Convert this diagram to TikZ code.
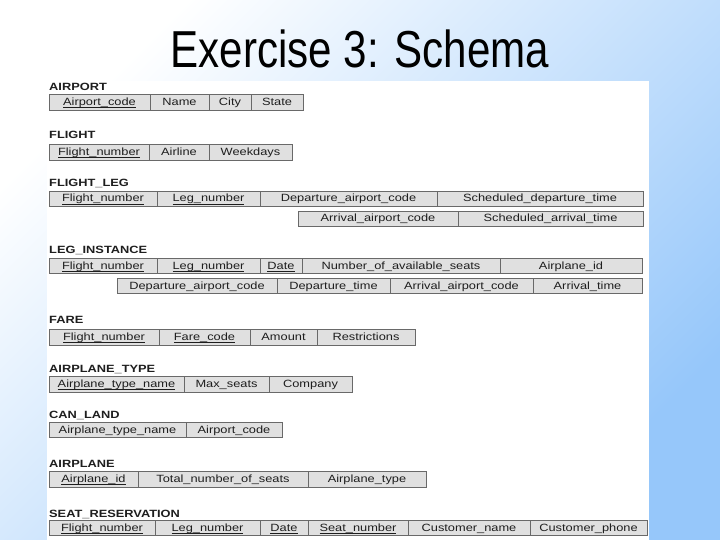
\documentclass[tikz,border=0pt]{standalone}
\usepackage{fontspec}
\setmainfont{Liberation Sans}
\usepackage{graphicx}
\definecolor{bgblue}{RGB}{150,199,250}
\definecolor{cellfill}{RGB}{224,224,224}
\definecolor{cellline}{RGB}{105,105,105}
\definecolor{txt}{RGB}{30,30,30}
\newcommand\st[1]{\scalebox{1.22}[1]{#1}}
\newsavebox\keybox
\newcommand\keyu[1]{\sbox\keybox{#1}\rlap{\rule[-2.3pt]{\wd\keybox}{0.6pt}}\usebox\keybox}
\newcommand\cf[6]{%
  \pgfmathsetmacro\mycw{#3-#2}%
  \pgfmathsetmacro\mych{#5-#4}%
  \node[cellbox, minimum width=\mycw pt, minimum height=\mych pt, anchor=north west] (#1) at (#2,#4) {\st{#6}};}
\tikzset{
  cellbox/.style={draw=cellline, fill=cellfill, line width=0.8pt, inner sep=0pt, outer sep=0pt,
    text height=8.5pt, text depth=1.5pt, font=\fontsize{10.5}{12}\selectfont, text=txt},
  tlabel/.style={anchor=base west, inner sep=0pt, font=\fontsize{10.5}{12}\selectfont\bfseries, text=txt},
  titlestyle/.style={anchor=base, inner sep=0pt, font=\fontsize{52}{60}\selectfont, text=black}
}
\begin{document}
\begin{tikzpicture}[x=1pt,y=-1pt]
\useasboundingbox (0,0) rectangle (720,540);
\shade[shading=axis, top color=white, bottom color=bgblue, shading angle=45] (0,0) rectangle (720,540);
\fill[white] (47,81) rectangle (649,540);
\node[titlestyle] (title) at (360,68) {\scalebox{0.81}[1]{Exercise 3: Schema}};

% AIRPORT
\node[tlabel] (lAirport) at (49,91) {\st{AIRPORT}};
\cf{ap1}{49}{150}{94}{110}{\keyu{Airport\_code}}
\cf{ap2}{150}{209}{94}{110}{Name}
\cf{ap3}{209}{251}{94}{110}{City}
\cf{ap4}{251}{303}{94}{110}{State}

% FLIGHT
\node[tlabel] (lFlight) at (49,139) {\st{FLIGHT}};
\cf{fl1}{49}{149}{144}{160}{\keyu{Flight\_number}}
\cf{fl2}{149}{209}{144}{160}{Airline}
\cf{fl3}{209}{292}{144}{160}{Weekdays}

% FLIGHT_LEG
\node[tlabel] (lFlightLeg) at (49,187) {\st{FLIGHT\_LEG}};
\cf{lg1}{49}{157}{191}{206}{\keyu{Flight\_number}}
\cf{lg2}{157}{260}{191}{206}{\keyu{Leg\_number}}
\cf{lg3}{260}{437}{191}{206}{Departure\_airport\_code}
\cf{lg4}{437}{643}{191}{206}{Scheduled\_departure\_time}
\cf{lg5}{298}{458}{211}{226}{Arrival\_airport\_code}
\cf{lg6}{458}{643}{211}{226}{Scheduled\_arrival\_time}

% LEG_INSTANCE
\node[tlabel] (lLegInst) at (49,253) {\st{LEG\_INSTANCE}};
\cf{li1}{49}{157}{258}{273}{\keyu{Flight\_number}}
\cf{li2}{157}{260}{258}{273}{\keyu{Leg\_number}}
\cf{li3}{260}{302}{258}{273}{\keyu{Date}}
\cf{li4}{302}{500}{258}{273}{Number\_of\_available\_seats}
\cf{li5}{500}{642}{258}{273}{Airplane\_id}
\cf{li6}{117}{277}{278}{293}{Departure\_airport\_code}
\cf{li7}{277}{390}{278}{293}{Departure\_time}
\cf{li8}{390}{533}{278}{293}{Arrival\_airport\_code}
\cf{li9}{533}{642}{278}{293}{Arrival\_time}

% FARE
\node[tlabel] (lFare) at (49,323) {\st{FARE}};
\cf{fa1}{49}{159}{329}{345}{\keyu{Flight\_number}}
\cf{fa2}{159}{250}{329}{345}{\keyu{Fare\_code}}
\cf{fa3}{250}{317}{329}{345}{Amount}
\cf{fa4}{317}{415}{329}{345}{Restrictions}

% AIRPLANE_TYPE
\node[tlabel] (lAType) at (49,372) {\st{AIRPLANE\_TYPE}};
\cf{at1}{49}{184}{376}{392}{\keyu{Airplane\_type\_name}}
\cf{at2}{184}{269}{376}{392}{Max\_seats}
\cf{at3}{269}{352}{376}{392}{Company}

% CAN_LAND
\node[tlabel] (lCanLand) at (49,418) {\st{CAN\_LAND}};
\cf{cl1}{49}{186}{422}{437}{Airplane\_type\_name}
\cf{cl2}{186}{282}{422}{437}{Airport\_code}

% AIRPLANE
\node[tlabel] (lAirplane) at (49,467) {\st{AIRPLANE}};
\cf{ai1}{49}{138}{471}{487}{\keyu{Airplane\_id}}
\cf{ai2}{138}{308}{471}{487}{Total\_number\_of\_seats}
\cf{ai3}{308}{426}{471}{487}{Airplane\_type}

% SEAT_RESERVATION
\node[tlabel] (lSeatRes) at (49,517) {\st{SEAT\_RESERVATION}};
\cf{sr1}{49}{155}{520}{535}{\keyu{Flight\_number}}
\cf{sr2}{155}{260}{520}{535}{\keyu{Leg\_number}}
\cf{sr3}{260}{308}{520}{535}{\keyu{Date}}
\cf{sr4}{308}{408}{520}{535}{\keyu{Seat\_number}}
\cf{sr5}{408}{530}{520}{535}{Customer\_name}
\cf{sr6}{530}{647}{520}{535}{Customer\_phone}
\end{tikzpicture}
\end{document}
